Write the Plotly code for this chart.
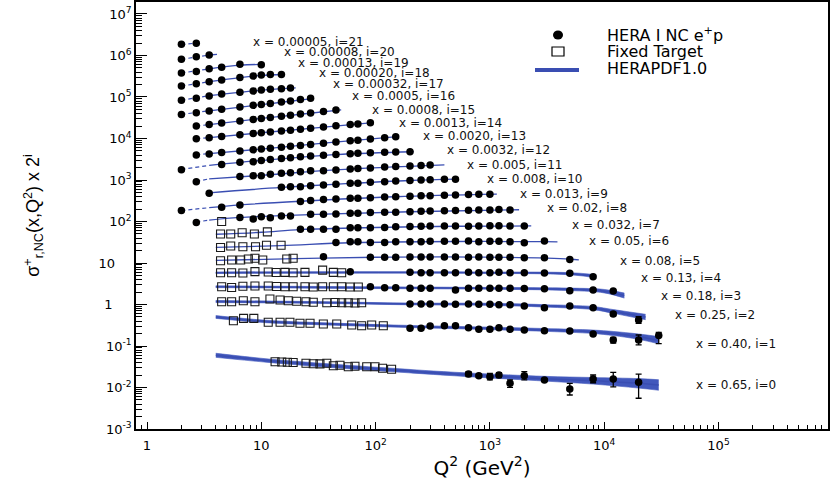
import plotly.graph_objects as go

# ---------------- data (sigma_r values; plotted as sigma_r * 2^i) ----------------
X_VALUES = ["0.65", "0.40", "0.25", "0.18", "0.13", "0.08", "0.05", "0.032", "0.02",
            "0.013", "0.008", "0.005", "0.0032", "0.0020", "0.0013", "0.0008", "0.0005",
            "0.00032", "0.00020", "0.00013", "0.00008", "0.00005"]

HERA_Q2 = [
    [650, 800, 1000, 1200, 1500, 2000, 3000, 5000, 8000, 12000, 20000],
    [200, 250, 300, 400, 500, 650, 800, 1000, 1200, 1500, 2000, 3000, 5000, 8000, 12000, 20000, 30000],
    [200, 250, 300, 400, 500, 650, 800, 1000, 1200, 1500, 2000, 3000, 5000, 8000, 12000, 20000],
    [90, 120, 150, 200, 250, 300, 500, 650, 800, 1000, 1200, 1500, 2000, 3000, 5000, 8000, 12000],
    [60, 200, 250, 300, 400, 500, 650, 800, 1000, 1200, 1500, 2000, 3000, 5000, 8000],
    [35, 90, 120, 150, 200, 250, 300, 400, 500, 650, 800, 1000, 1200, 1500, 2000, 3000, 5000],
    [45, 60, 70, 90, 120, 150, 200, 250, 300, 400, 500, 650, 800, 1000, 1200, 1500, 2000, 3000],
    [22, 27, 35, 45, 60, 70, 90, 120, 150, 200, 250, 300, 400, 500, 650, 800, 1000, 1200, 1500, 2000],
    [2.7, 6.5, 8.5, 10, 12, 15, 18, 27, 35, 45, 60, 70, 90, 120, 150, 200, 250, 300, 400, 500, 650, 800, 1000, 1200, 1500],
    [2, 4.5, 6.5, 22, 27, 35, 45, 60, 70, 90, 120, 150, 200, 250, 300, 400, 500, 650, 800, 1000],
    [3.5, 15, 18, 22, 27, 35, 45, 60, 70, 90, 120, 150, 200, 250, 300, 400, 500],
    [2.7, 6.5, 8.5, 10, 12, 15, 18, 22, 27, 35, 45, 60, 70, 90, 120, 150, 200, 250, 300],
    [2, 4.5, 6.5, 8.5, 10, 12, 15, 18, 22, 27, 35, 45, 60, 70, 90, 120, 150, 200],
    [2.7, 3.5, 4.5, 6.5, 8.5, 10, 12, 15, 18, 22, 27, 35, 45, 60, 70, 90, 120, 150],
    [2.7, 3.5, 4.5, 6.5, 8.5, 10, 12, 15, 18, 22, 27, 35, 45, 60, 70, 90],
    [2.7, 3.5, 4.5, 6.5, 8.5, 10, 12, 15, 18, 22, 27, 35, 45],
    [2, 2.7, 3.5, 4.5, 6.5, 8.5, 10, 12, 15, 18, 22, 27],
    [2, 2.7, 3.5, 4.5, 6.5, 8.5, 10, 12, 15, 18],
    [2, 2.7, 3.5, 4.5, 6.5, 8.5, 10, 12, 15],
    [2, 2.7, 3.5, 4.5, 6.5, 10],
    [2, 2.7, 3.5],
    [2, 2.7],
]

HERA_SIGMA = [
    [0.0212, 0.0192, 0.0182, 0.0200, 0.0126, 0.0192, 0.0152, 0.0092, 0.0160, 0.0160, 0.0133],
    [0.133, 0.133, 0.152, 0.154, 0.154, 0.138, 0.126, 0.126, 0.138, 0.126, 0.121, 0.117, 0.115, 0.097, 0.070, 0.070, 0.089],
    [0.257, 0.257, 0.257, 0.257, 0.252, 0.257, 0.252, 0.252, 0.247, 0.247, 0.230, 0.209, 0.230, 0.209, 0.148, 0.106],
    [0.335, 0.317, 0.317, 0.306, 0.306, 0.306, 0.279, 0.306, 0.306, 0.306, 0.306, 0.306, 0.303, 0.300, 0.268, 0.279, 0.264],
    [0.385, 0.372, 0.364, 0.364, 0.364, 0.364, 0.372, 0.364, 0.364, 0.372, 0.364, 0.364, 0.358, 0.352, 0.292],
    [0.44, 0.43, 0.43, 0.43, 0.435, 0.435, 0.435, 0.435, 0.435, 0.43, 0.435, 0.43, 0.43, 0.43, 0.42, 0.42, 0.38],
    [0.49, 0.51, 0.51, 0.49, 0.49, 0.51, 0.51, 0.51, 0.52, 0.52, 0.52, 0.53, 0.51, 0.52, 0.52, 0.51, 0.48, 0.53],
    [0.51, 0.51, 0.51, 0.51, 0.55, 0.55, 0.55, 0.56, 0.58, 0.59, 0.60, 0.61, 0.61, 0.61, 0.60, 0.61, 0.62, 0.62, 0.61, 0.61],
    [0.37, 0.49, 0.45, 0.51, 0.48, 0.53, 0.53, 0.58, 0.58, 0.59, 0.62, 0.62, 0.64, 0.65, 0.65, 0.67, 0.69, 0.70, 0.71, 0.72, 0.73, 0.74, 0.74, 0.76, 0.74],
    [0.36, 0.43, 0.49, 0.59, 0.63, 0.66, 0.68, 0.71, 0.71, 0.73, 0.76, 0.77, 0.79, 0.81, 0.82, 0.84, 0.85, 0.87, 0.88, 0.89],
    [0.47, 0.65, 0.67, 0.67, 0.71, 0.74, 0.77, 0.81, 0.81, 0.86, 0.89, 0.93, 0.95, 0.98, 0.99, 1.02, 1.02],
    [0.44, 0.59, 0.62, 0.62, 0.67, 0.71, 0.73, 0.77, 0.81, 0.82, 0.85, 0.90, 0.93, 0.95, 1.01, 1.03, 1.06, 1.09, 1.12],
    [0.43, 0.58, 0.65, 0.67, 0.72, 0.76, 0.81, 0.84, 0.89, 0.93, 0.96, 1.00, 1.05, 1.07, 1.10, 1.14, 1.16, 1.17],
    [0.49, 0.52, 0.56, 0.61, 0.65, 0.68, 0.71, 0.75, 0.79, 0.83, 0.88, 0.94, 1.00, 1.07, 1.11, 1.19, 1.28, 1.35],
    [0.60, 0.64, 0.68, 0.75, 0.81, 0.84, 0.88, 0.93, 0.97, 1.02, 1.08, 1.16, 1.23, 1.32, 1.37, 1.47],
    [0.61, 0.66, 0.72, 0.81, 0.88, 0.93, 0.98, 1.05, 1.11, 1.18, 1.26, 1.37, 1.48],
    [0.58, 0.64, 0.70, 0.77, 0.87, 0.96, 1.01, 1.07, 1.16, 1.23, 1.32, 1.42],
    [0.64, 0.71, 0.81, 0.90, 0.99, 1.06, 1.12, 1.17, 1.21, 1.26],
    [0.70, 0.79, 0.89, 0.98, 1.13, 1.22, 1.29, 1.33, 1.33],
    [0.72, 0.79, 0.92, 1.00, 1.17, 1.14],
    [0.77, 0.89, 0.98],
    [0.89, 0.94],
]

# error bars (only series 0, 1, 2 have visible ones); 0 means no bar
ERR_SERIES = [0, 1, 2]
HERA_ERR_UP = [
    [0.0028, 0.0015, 0.0038, 0.0027, 0.0026, 0.0048, 0.0012, 0.0034, 0.0040, 0.0072, 0.0078],
    [0, 0, 0, 0, 0, 0, 0, 0, 0, 0, 0, 0, 0, 0, 0.011, 0.022, 0.017],
    [0, 0, 0, 0, 0, 0, 0, 0, 0, 0, 0, 0, 0, 0, 0.015, 0.022],
]
HERA_ERR_DN = [
    [0.0030, 0.0015, 0.0030, 0.0028, 0.0025, 0.0040, 0.0012, 0.0026, 0.0030, 0.0056, 0.0078],
    [0, 0, 0, 0, 0, 0, 0, 0, 0, 0, 0, 0, 0, 0, 0.011, 0.017, 0.032],
    [0, 0, 0, 0, 0, 0, 0, 0, 0, 0, 0, 0, 0, 0, 0.015, 0.018],
]

# fixed-target points for series i = 0..8
FT_Q2 = [
    [13.2, 15.1, 16.9, 19.0, 24.6, 28.5, 32.6, 37.4, 42.7, 48.8, 57.7, 66, 83.6, 98.8, 115, 138],
    [5.7, 7.0, 8.6, 11.5, 14.6, 17.8, 21.8, 26.7, 34.9, 45.7, 61.8, 75.5, 92.4, 116.8],
    [4.5, 5.5, 6.96, 8.8, 11.9, 14.6, 17.2, 20.4, 24.6, 28.5, 37.4, 44.2, 50.5, 57.7, 66, 75.5],
    [4.5, 5.5, 6.9, 8.8, 11.5, 13.6, 16.1, 19.0, 24.1, 28.5, 34.4, 42.7, 50.5, 59.7, 70.6],
    [4.4, 5.5, 6.9, 8.8, 11.5, 13.5, 16.1, 19.0, 24.1, 34.4, 42.7, 50.5],
    [4.4, 5.5, 6.6, 7.7, 8.8, 10.3, 16.7, 19.0],
    [4.4, 5.4, 6.9, 8.9, 11.1, 14.9],
    [4.4, 5.4, 6.8, 8.7, 11.3],
    [4.5],
]
FT_SIGMA = [
    [0.0418, 0.0410, 0.0405, 0.0400, 0.0383, 0.0375, 0.0370, 0.0383, 0.0335, 0.0345, 0.0317, 0.0325, 0.0317, 0.0317, 0.0290, 0.0275],
    [0.203, 0.232, 0.232, 0.186, 0.186, 0.186, 0.176, 0.176, 0.169, 0.169, 0.160, 0.154, 0.160, 0.154],
    [0.292, 0.292, 0.309, 0.292, 0.340, 0.320, 0.309, 0.300, 0.292, 0.284, 0.276, 0.280, 0.276, 0.276, 0.272, 0.276],
    [0.335, 0.320, 0.345, 0.350, 0.350, 0.340, 0.335, 0.335, 0.335, 0.330, 0.335, 0.335, 0.335, 0.330, 0.330],
    [0.364, 0.364, 0.358, 0.388, 0.378, 0.368, 0.372, 0.364, 0.372, 0.420, 0.372, 0.364],
    [0.354, 0.368, 0.368, 0.389, 0.405, 0.368, 0.389, 0.405],
    [0.370, 0.400, 0.385, 0.385, 0.420, 0.420],
    [0.390, 0.390, 0.420, 0.390, 0.440],
    [0.390],
]

# HERAPDF1.0 prediction (knots of the curves) and relative band half-width
CURVE_Q2 = [
    [4, 11, 43, 163, 320, 770, 3000, 8000, 20000, 30000],
    [4, 11, 43, 160, 800, 3000, 8000, 12000, 20000, 30000],
    [4, 30, 200, 1000, 3000, 8000, 12000, 23000],
    [4, 100, 1000, 5000, 10000, 15000],
    [4, 50, 1000, 5000, 8500],
    [4, 20, 100, 1000, 5000, 6000],
    [4, 15, 60, 500, 3000, 3900],
    [4, 10, 22, 100, 500, 2300],
    [2.7, 3.5, 6.5, 30, 200, 1800],
    [2, 3.5, 6.5, 22, 150, 1150],
    [3.5, 15, 60, 200, 520],
    [2.7, 3.5, 10, 45, 400],
    [2, 3.5, 10, 45, 215],
    [2.7, 3.5, 10, 35, 155],
    [2.7, 3.5, 10, 30, 95],
    [2.7, 3.5, 10, 22, 50],
    [2, 3.5, 8.5, 15, 28],
    [2, 3.5, 6.5, 12, 20],
    [2, 3.5, 6.5, 10, 15.5],
    [2, 3.5, 6.5, 10],
    [2, 3.5, 4.1],
    [2, 3.0],
]
CURVE_SIGMA = [
    [0.0597, 0.0448, 0.0330, 0.0257, 0.0227, 0.0197, 0.0163, 0.0145, 0.0126, 0.0115],
    [0.250, 0.195, 0.168, 0.150, 0.135, 0.122, 0.110, 0.100, 0.084, 0.069],
    [0.295, 0.280, 0.258, 0.252, 0.232, 0.205, 0.170, 0.125],
    [0.335, 0.318, 0.306, 0.290, 0.262, 0.205],
    [0.365, 0.370, 0.365, 0.345, 0.300],
    [0.36, 0.40, 0.43, 0.432, 0.39, 0.37],
    [0.37, 0.41, 0.48, 0.515, 0.51, 0.505],
    [0.385, 0.43, 0.50, 0.56, 0.60, 0.61],
    [0.38, 0.42, 0.49, 0.58, 0.67, 0.75],
    [0.36, 0.42, 0.49, 0.60, 0.77, 0.89],
    [0.48, 0.645, 0.81, 0.95, 1.02],
    [0.45, 0.52, 0.63, 0.86, 1.13],
    [0.44, 0.55, 0.72, 1.00, 1.17],
    [0.49, 0.53, 0.68, 0.94, 1.36],
    [0.60, 0.64, 0.84, 1.10, 1.48],
    [0.61, 0.66, 0.93, 1.17, 1.50],
    [0.58, 0.71, 0.95, 1.14, 1.40],
    [0.64, 0.82, 0.99, 1.16, 1.27],
    [0.70, 0.89, 1.12, 1.26, 1.33],
    [0.72, 0.91, 1.12, 1.16],
    [0.77, 0.98, 1.01],
    [0.88, 0.97],
]
BAND_REL = [
    [0.12, 0.10, 0.10, 0.10, 0.10, 0.11, 0.14, 0.20, 0.30, 0.34],
    [0.08, 0.07, 0.06, 0.06, 0.07, 0.08, 0.10, 0.12, 0.16, 0.22],
    [0.06, 0.05, 0.05, 0.06, 0.07, 0.09, 0.11, 0.16],
    [0.05, 0.05, 0.05, 0.07, 0.10, 0.15],
    [0.04, 0.04, 0.04, 0.06, 0.09],
]
DASH_BELOW_Q2 = 3.5

X_TICK_EXP = [0, 1, 2, 3, 4, 5]
Y_TICK_EXP = [-3, -2, -1, 0, 1, 2, 3, 4, 5, 6, 7]
LEGEND_NAMES = ["HERA I NC e<sup>+</sup>p", "Fixed Target", "HERAPDF1.0"]

# ---------------- layout constants (pixels of the 830x487 canvas) ----------------
W, H = 830, 487
PL, PR, PT, PB = 136, 828, 2, 429
LABEL_PX = [(694, 385), (694, 344), (673, 315), (659, 296), (639, 277.7), (618, 260.7),
            (587, 240.7), (570, 225), (545, 208.3), (518, 194), (485, 179.3), (465, 165),
            (445, 150), (421, 135.7), (397, 123.3), (370, 110), (350, 96), (331, 84.3),
            (316.7, 73.3), (296, 63.3), (281.7, 51.7), (251, 41.7)]

BLUE = "rgb(58,78,178)"
BAND = "rgb(66,88,188)"
FONT = "DejaVu Sans"
FIG_SP = "\u2007"   # figure space: keeps the short y labels left-ish like the original
THIN_SP = "\u2009"


def px(xp):
    return (xp - PL) / (PR - PL)


def py(yp):
    return (PB - yp) / (PB - PT)


def tick_text(e, pad=False):
    if e == 0:
        return "1" + (FIG_SP * 2 + THIN_SP if pad else "")
    if e == 1:
        return "10" + (FIG_SP * 2 if pad else "")
    return "10<sup>%d</sup>" % e


fig = go.Figure()

# --- curves / bands ---
for i in range(len(CURVE_Q2)):
    q = CURVE_Q2[i]
    s = [v * 2 ** i for v in CURVE_SIGMA[i]]
    if i < len(BAND_REL):
        lo = [v / (1 + r) for v, r in zip(s, BAND_REL[i])]
        hi = [v * (1 + r) for v, r in zip(s, BAND_REL[i])]
        fig.add_trace(go.Scatter(x=q, y=lo, mode="lines", line=dict(color=BAND, width=0.6, shape="spline"),
                                 showlegend=False, hoverinfo="skip"))
        fig.add_trace(go.Scatter(x=q, y=hi, mode="lines", line=dict(color=BAND, width=0.6, shape="spline"),
                                 fill="tonexty", fillcolor=BAND, showlegend=False, hoverinfo="skip"))
        fig.add_trace(go.Scatter(x=q, y=s, mode="lines", line=dict(color=BLUE, width=1.5, shape="spline"),
                                 showlegend=False, hoverinfo="skip"))
        continue
    dq = [(a, b) for a, b in zip(q, s) if a <= DASH_BELOW_Q2]
    sq = [(a, b) for a, b in zip(q, s) if a >= DASH_BELOW_Q2]
    if len(dq) >= 2:
        fig.add_trace(go.Scatter(x=[a for a, _ in dq], y=[b for _, b in dq], mode="lines",
                                 line=dict(color=BLUE, width=1.2, dash="4px,3px", shape="spline"),
                                 showlegend=False, hoverinfo="skip"))
    if len(sq) >= 2:
        fig.add_trace(go.Scatter(x=[a for a, _ in sq], y=[b for _, b in sq], mode="lines",
                                 line=dict(color=BLUE, width=1.3, shape="spline"),
                                 showlegend=False, hoverinfo="skip"))

# --- fixed target points ---
for i in range(len(FT_Q2)):
    fig.add_trace(go.Scatter(x=FT_Q2[i], y=[v * 2 ** i for v in FT_SIGMA[i]], mode="markers",
                             marker=dict(symbol="square-open", size=8, color="#1a1a1a", line=dict(width=1.1)),
                             showlegend=False, name=LEGEND_NAMES[1]))

# --- HERA points ---
for i in range(len(HERA_Q2)):
    err = None
    if i in ERR_SERIES:
        k = ERR_SERIES.index(i)
        up = [e * 2 ** i if e else None for e in HERA_ERR_UP[k]]
        dn = [e * 2 ** i if e else None for e in HERA_ERR_DN[k]]
        err = dict(type="data", symmetric=False, array=up, arrayminus=dn,
                   color="black", thickness=1.3, width=3)
    fig.add_trace(go.Scatter(x=HERA_Q2[i], y=[v * 2 ** i for v in HERA_SIGMA[i]], mode="markers",
                             marker=dict(symbol="circle", size=7.5, color="black"),
                             error_y=err, showlegend=False, name=LEGEND_NAMES[0]))

# --- series labels ---
annotations = []
for i, (lx, ly) in enumerate(LABEL_PX):
    annotations.append(dict(text="x = %s, i=%d" % (X_VALUES[i], i), xref="paper", yref="paper",
                            x=px(lx), y=py(ly), xanchor="left", yanchor="middle", showarrow=False,
                            font=dict(family=FONT, size=12, color="#111")))

# --- legend (drawn) ---
leg_rows = [35, 51.5, 69]
for name, yy in zip(LEGEND_NAMES, leg_rows):
    annotations.append(dict(text=name, xref="paper", yref="paper", x=px(605), y=py(yy),
                            xanchor="left", yanchor="middle", showarrow=False,
                            font=dict(family=FONT, size=16, color="black")))
shapes = [
    dict(type="circle", xref="paper", yref="paper", xsizemode="pixel", ysizemode="pixel",
         xanchor=px(558), yanchor=py(35), x0=-5, x1=5, y0=-4.5, y1=4.5,
         fillcolor="black", line=dict(width=0)),
    dict(type="rect", xref="paper", yref="paper", xsizemode="pixel", ysizemode="pixel",
         xanchor=px(558), yanchor=py(51.5), x0=-6, x1=6, y0=-4.5, y1=4.5,
         fillcolor="white", line=dict(color="black", width=1.2)),
    dict(type="line", xref="paper", yref="paper", x0=px(535), x1=px(579), y0=py(70), y1=py(70),
         line=dict(color=BLUE, width=4)),
]

x_minor = [k * 10 ** n for n in range(-1, 6) for k in range(2, 10)]
y_minor = [k * 10.0 ** n for n in range(-3, 8) for k in range(2, 10)]

fig.update_layout(
    width=W, height=H,
    margin=dict(l=PL, r=W - PR, t=PT, b=H - PB, autoexpand=False),
    paper_bgcolor="white", plot_bgcolor="white",
    annotations=annotations, shapes=shapes, showlegend=False,
    xaxis=dict(type="log", range=[-0.0962, 5.958], automargin=False,
               tickvals=[10 ** e for e in X_TICK_EXP], ticktext=[tick_text(e) for e in X_TICK_EXP],
               ticks="inside", ticklen=7, tickwidth=1.2, tickcolor="black",
               minor=dict(tickvals=x_minor, ticks="inside", ticklen=4, tickwidth=1, tickcolor="black"),
               showline=True, linecolor="black", linewidth=1.5, mirror=True,
               showgrid=False, zeroline=False,
               tickfont=dict(family=FONT, size=13, color="black"), ticklabelstandoff=4,
               title=dict(text="Q<sup>2</sup> (GeV<sup>2</sup>)", font=dict(family=FONT, size=20, color="black"),
                          standoff=0)),
    yaxis=dict(type="log", range=[-3, 7.289], automargin=False,
               tickvals=[10.0 ** e for e in Y_TICK_EXP], ticktext=[tick_text(e, pad=True) for e in Y_TICK_EXP],
               ticks="inside", ticklen=11, tickwidth=1.2, tickcolor="black",
               minor=dict(tickvals=y_minor, ticks="inside", ticklen=6, tickwidth=1, tickcolor="black"),
               showline=True, linecolor="black", linewidth=1.5, mirror=True,
               showgrid=False, zeroline=False,
               tickfont=dict(family=FONT, size=13, color="black"),
               title=dict(text="σ<sup>+</sup><sub>r,NC</sub>(x,Q<sup>2</sup>) x 2<sup>i</sup>",
                          font=dict(family="Liberation Sans", size=18, color="black"), standoff=54)),
)

fig.write_html("out.html", config={"displayModeBar": False},
               post_script="document.body.style.margin='0';document.body.style.overflow='hidden';")
